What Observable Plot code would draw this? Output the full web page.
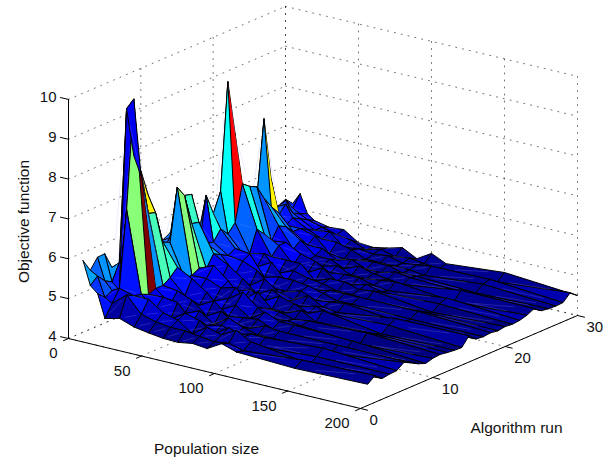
<!DOCTYPE html>
<html><head><meta charset="utf-8">
<style>html,body{margin:0;padding:0;background:#fff}svg{display:block}</style>
<script src="https://cdn.jsdelivr.net/npm/d3@7"></script>
<script src="https://cdn.jsdelivr.net/npm/@observablehq/plot@0.6"></script>
</head><body><div id="chart"></div>
<script>
const populationSizes = [5,10,15,20,30,40,50,60,70,80,90,100,110,150,200];
const runs = d3.range(1,31);
const xTicks = [0,50,100,150,200];
const yTicks = [0,10,20,30];
const zTicks = [4,5,6,7,8,9,10];
const z5  = [5.92,5.6,5.85,5.86,5.44,5.2,5.3,5.2,5.3,5.1,5.3,5.5,5.4,5.3,5.2,5.3,5.4,5.4,5.3,5.2,5.3,5.4,5.5,5.4,5.3,5.2,5.2,5.2,5.28,5.1];
const z10 = [5.34,5.5,5.3,5.2,5.6,5.4,5.5,5.3,5.5,5.6,5.7,5.8,5.6,5.5,5.6,5.5,5.6,5.5,5.4,5.4,5.4,5.5,5.5,5.4,5.4,5.4,5.3,5.37,5.1,5.39];
const z15 = [5.18,5.0,5.1,5.03,9.51,8.25,7.78,7.1,6.0,5.6,5.8,6.0,6.71,6.66,5.2,6.48,5.95,6.43,9.1,7.72,5.6,5.6,5.85,7.78,6.17,5.2,5.4,5.1,5.0,4.93];
const z20 = [4.6,4.9,5.2,7.1,9.8,7.78,6.77,6.71,5.9,5.8,7.11,6.83,6.05,6.0,5.4,5.35,5.6,5.4,5.6,6.5,6.36,6.27,5.9,5.62,5.39,5.0,5.1,5.0,4.9,4.8];
const z30 = [4.69,5.2,5.1,5.06,4.98,5.05,5.05,5.17,5.35,5.0,4.99,5.09,5.0,5.3,5.2,5.1,5.2,5.0,4.92,5.45,5.25,5.0,5.3,5.2,5.0,5.0,4.9,4.8,4.8,4.72];
const z40 = [4.56,4.8,5.1,4.8,5.0,4.75,5.0,4.8,5.15,4.8,5.0,5.25,4.8,5.1,4.8,5.05,5.15,4.75,5.0,4.85,5.05,5.05,4.8,4.95,4.75,4.9,4.75,4.85,4.7,4.75];
const z50 = [4.5,4.7,4.85,4.6,4.95,4.6,4.85,4.65,4.9,4.6,4.85,4.95,4.6,4.85,4.6,4.9,4.65,4.95,4.6,4.85,4.65,4.85,4.6,4.65,4.75,4.55,4.75,4.55,4.65,4.51];
const z60 = [4.45,4.65,4.75,4.85,4.55,4.75,4.55,4.85,4.55,4.75,4.95,4.55,4.75,4.55,4.85,4.55,4.75,4.55,4.75,4.85,4.55,4.75,4.55,4.65,4.55,4.5,4.65,4.6,4.5,4.48];
const z70 = [4.44,4.65,4.5,4.75,4.55,4.5,4.75,4.55,4.75,5.0,4.55,4.85,4.55,4.75,4.6,4.55,4.75,4.55,4.65,4.5,4.75,4.55,4.65,4.5,4.65,4.55,4.5,4.55,4.6,4.55];
const z80 = [4.5,4.6,4.75,4.5,4.65,4.75,4.5,4.6,4.5,4.7,4.6,4.5,4.75,4.55,4.5,4.65,4.7,4.5,4.6,4.65,4.5,4.6,4.5,4.65,4.5,4.6,4.5,4.6,4.5,4.65];
const z90 = [4.46,4.55,4.65,4.75,4.5,4.6,4.5,4.65,4.75,4.5,4.6,4.5,4.65,4.5,4.7,4.5,4.6,4.6,4.5,4.65,4.5,4.6,4.5,4.55,4.5,4.6,4.5,4.5,4.55,4.46];
const z100 = [4.67,4.6,4.85,4.6,4.6,4.5,4.65,4.5,4.6,4.55,4.5,4.65,4.5,4.6,4.5,4.55,4.5,4.6,4.5,4.55,4.6,4.5,4.55,4.5,4.6,4.5,4.5,4.55,4.5,4.68];
const z110 = [4.55,4.5,4.65,4.45,4.6,4.5,4.6,4.45,4.6,4.5,4.55,4.45,4.65,4.5,4.45,4.6,4.5,4.6,4.45,4.6,4.5,4.45,4.6,4.45,4.55,4.5,4.45,4.6,4.45,4.51];
const z150 = [4.49,4.62,4.45,4.55,4.68,4.48,4.6,4.42,4.55,4.4,4.6,4.5,4.42,4.56,4.65,4.45,4.48,4.6,4.5,4.42,4.55,4.62,4.45,4.66,4.5,4.44,4.58,4.62,4.48,4.64];
const z200 = [4.53,4.67,4.52,4.55,4.56,4.69,4.6,4.5,4.43,4.48,4.5,4.47,4.45,4.44,4.66,4.5,4.48,4.5,4.47,4.5,4.48,4.5,4.55,4.64,4.51,4.48,4.47,4.48,4.65,4.5];
const surfaceRows = [z5,z10,z15,z20,z30,z40,z50,z60,z70,z80,z90,z100,z110,z150,z200];
const colorMin = 4.35, colorMax = 9.8;
// faces whose colour differs from their corner vertex: [population index, run index, value]
const colorOverrides = [[2,4,5.03],[3,5,5.8],[3,20,5.85],[3,21,5.4]];
const facesDrawnLate = [[2,4,3]];
const facesWithoutEdge = [[3,4],[2,18],[2,23]];

const project = (x,y,z) => [
  68 + x/200*292 + y/30*217,
  338 + x/200*70 - y/30*93 - (z-4)*39.85
];
function jet(c){
  const t = Math.min(63,Math.floor(Math.max(0,Math.min(0.9999,c))*64))/63;
  const f = v => Math.round(255*Math.max(0,Math.min(1,v)));
  return `rgb(${f(1.5-Math.abs(4*t-3))},${f(1.5-Math.abs(4*t-2))},${f(1.5-Math.abs(4*t-1))})`;
}
const faces = [];
for (let j=0;j<runs.length-1;j++) for (let i=0;i<populationSizes.length-1;i++){
  const ov = colorOverrides.find(o=>o[0]===i&&o[1]===j);
  const late = facesDrawnLate.find(o=>o[0]===i&&o[1]===j);
  const v = ov ? ov[2] : surfaceRows[i][j];
  faces.push({i,j,key:late ? -(late[2])*100+i+1.5 : -j*100+i,
    fill:jet((v-colorMin)/(colorMax-colorMin)),
    stroke:facesWithoutEdge.some(o=>o[0]===i&&o[1]===j)?"none":"#000"});
}
faces.sort((a,b)=>a.key-b.key);
const polyRows = [];
const vertex = (i,j)=>project(populationSizes[i],runs[j],surfaceRows[i][j]);
faces.forEach((f,k)=>{
  [[0,0],[0,1],[1,1],[1,0],[0,0]].forEach(([di,dj])=>{
    const [px,py] = vertex(f.i+di,f.j+dj);
    polyRows.push({id:2*k,px,py,fill:f.fill,stroke:f.stroke,sw:1});
  });
  // pale seam across the quad
  const a=vertex(f.i,f.j), b=vertex(f.i+1,f.j+1);
  for(const t of [0.25,0.75]) polyRows.push({id:2*k+1,px:a[0]+(b[0]-a[0])*t,py:a[1]+(b[1]-a[1])*t,fill:"none",stroke:"rgba(170,170,255,0.35)",sw:0.6});
});
const seg = (a,b)=>{const p=project(...a),q=project(...b);return [{px:p[0],py:p[1]},{px:q[0],py:q[1]}];};
const gridRows = [];
const addSeg=(a,b)=>{const id=gridRows.length;seg(a,b).forEach(d=>gridRows.push({...d,id}));};
for(const z of zTicks){addSeg([0,30,z],[200,30,z]);addSeg([0,0,z],[0,30,z]);}
for(const x of xTicks){addSeg([x,30,4],[x,30,10]);addSeg([x,0,4],[x,30,4]);}
for(const y of yTicks){addSeg([0,y,4],[0,y,10]);addSeg([0,y,4],[200,y,4]);}
const axes=[];
const addAxis=(p,q)=>{const id=axes.length;axes.push({px:p[0],py:p[1],id},{px:q[0],py:q[1],id});};
addAxis(project(0,0,4),project(0,0,10));
addAxis(project(0,0,4),project(200,0,4));
addAxis(project(200,0,4),project(200,30,4));
for(const z of zTicks){const p=project(0,0,z);addAxis(p,[p[0]-8,p[1]-1.8]);}
for(const x of xTicks){const p=project(x,0,4);addAxis(p,[p[0]-5,p[1]+2.2]);}
for(const y of yTicks){const p=project(200,y,4);addAxis(p,[p[0]+7,p[1]+1.7]);}
const pt=(a,label)=>{const p=project(...a);return {px:p[0],py:p[1],label:String(label)};};
const font="Liberation Sans, Arial, sans-serif";
const plot = Plot.plot({
  width:609,height:459,margin:0,
  style:{background:"#fff",fontFamily:font},
  x:{domain:[0,609],range:[0,609],axis:null},
  y:{domain:[0,459],range:[0,459],axis:null},
  color:{type:"identity"},
  marks:[
    Plot.line(gridRows,{x:"px",y:"py",z:"id",stroke:"#000",strokeWidth:0.8,strokeDasharray:"1 6",strokeOpacity:0.7,curve:"linear"}),
    Plot.line(polyRows,{x:"px",y:"py",z:"id",fill:"fill",stroke:"stroke",strokeWidth:"sw",strokeLinejoin:"round",curve:"linear"}),
    Plot.line(axes,{x:"px",y:"py",z:"id",stroke:"#000",strokeWidth:1,curve:"linear"}),
    Plot.text(zTicks.map(z=>pt([0,0,z],z)),{x:"px",y:"py",text:"label",dx:-12,dy:-2,textAnchor:"end",fontSize:15,fill:"#111"}),
    Plot.text(xTicks.map(x=>pt([x,0,4],x)),{x:"px",y:"py",text:"label",dx:-11,dy:15,textAnchor:"end",fontSize:15,fill:"#111"}),
    Plot.text(yTicks.map(y=>pt([200,y,4],y)),{x:"px",y:"py",text:"label",dx:9,dy:12,textAnchor:"start",fontSize:15,fill:"#111"}),
    Plot.text([{px:206,py:449,t:"Population size"},{px:516,py:428,t:"Algorithm run"}],{x:"px",y:"py",text:"t",fontSize:15.5,fill:"#111"}),
    Plot.text([{px:24,py:221,t:"Objective function"}],{x:"px",y:"py",text:"t",rotate:-90,fontSize:15.5,fill:"#111"})
  ]
});
document.getElementById("chart").appendChild(plot);
</script></body></html>
